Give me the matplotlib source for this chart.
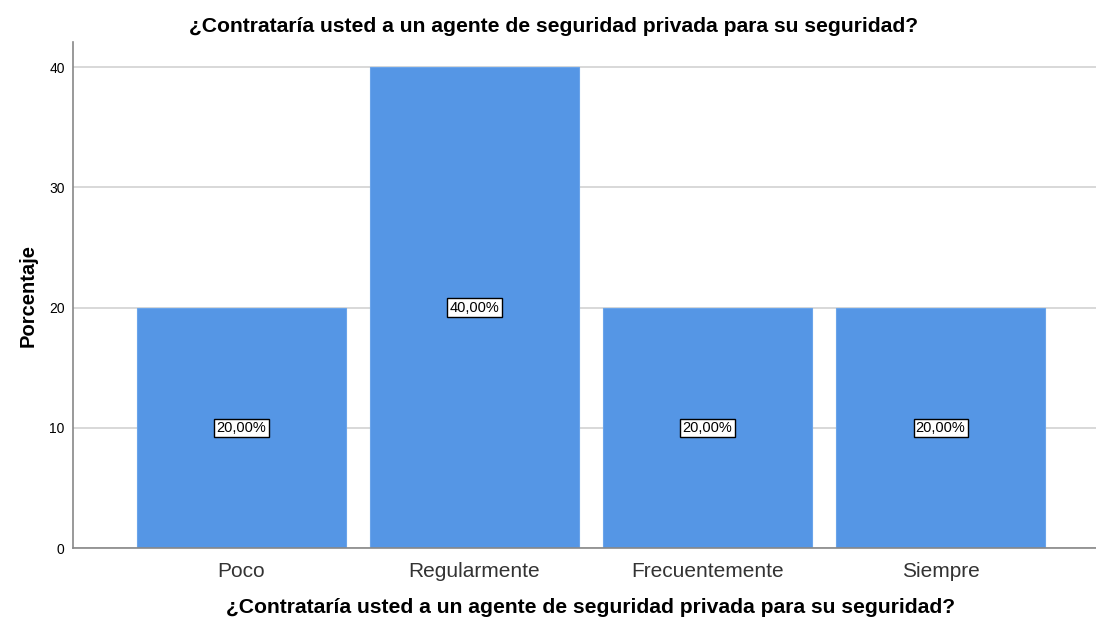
import numpy as np
import matplotlib
matplotlib.use("Agg")
import matplotlib.pyplot as plt

plt.rcParams["font.family"] = ["Liberation Sans", "DejaVu Sans"]

################################################
## Data

categories = ["Poco", "Regularmente", "Frecuentemente", "Siempre"]
percentages = [20.0, 40.0, 20.0, 20.0]
bar_labels = ["20,00%", "40,00%", "20,00%", "20,00%"]
title = "¿Contrataría usted a un agente de seguridad privada para su seguridad?"

################################################
## Plot

fig = plt.figure(figsize=(10.96, 6.19), dpi=100)
ax = fig.add_axes([0.0666, 0.1147, 0.9334, 0.8173])

xpos = np.arange(len(categories))
ax.bar(xpos, percentages, width=0.897, color="#5596e5", edgecolor="#6aa4ea",
       linewidth=0.8, zorder=2)

for x, v, lab in zip(xpos, percentages, bar_labels):
    ax.text(x, v / 2, lab, ha="center", va="center", fontsize=10.5, zorder=3,
            bbox=dict(boxstyle="square,pad=0.15", fc="white", ec="black", lw=1))

ax.set_xlim(-0.723, 3.667)
ax.set_ylim(0, 42.1)
ax.set_yticks([0, 10, 20, 30, 40])
ax.yaxis.grid(True, color="#d2d2d2", lw=1.2, zorder=0)
ax.set_axisbelow(True)

ax.set_xticks(xpos)
ax.set_xticklabels(categories, fontsize=15, color="#333333")
plt.setp(ax.get_yticklabels(), fontsize=10)
ax.tick_params(axis="both", length=0, pad=6)
ax.tick_params(axis="x", pad=10)

for s in ["top", "right"]:
    ax.spines[s].set_visible(False)
for s in ["left", "bottom"]:
    ax.spines[s].set_color("#888888")
    ax.spines[s].set_linewidth(1.2)

ax.set_ylabel("Porcentaje", fontsize=14.5, fontweight="bold", labelpad=8)
ax.set_xlabel(title, fontsize=15.2, fontweight="bold", labelpad=12, x=0.506)
ax.set_title(title, fontsize=15.2, fontweight="bold", pad=7, x=0.47)

plt.savefig("out.png", dpi=100)
plt.close("all")
